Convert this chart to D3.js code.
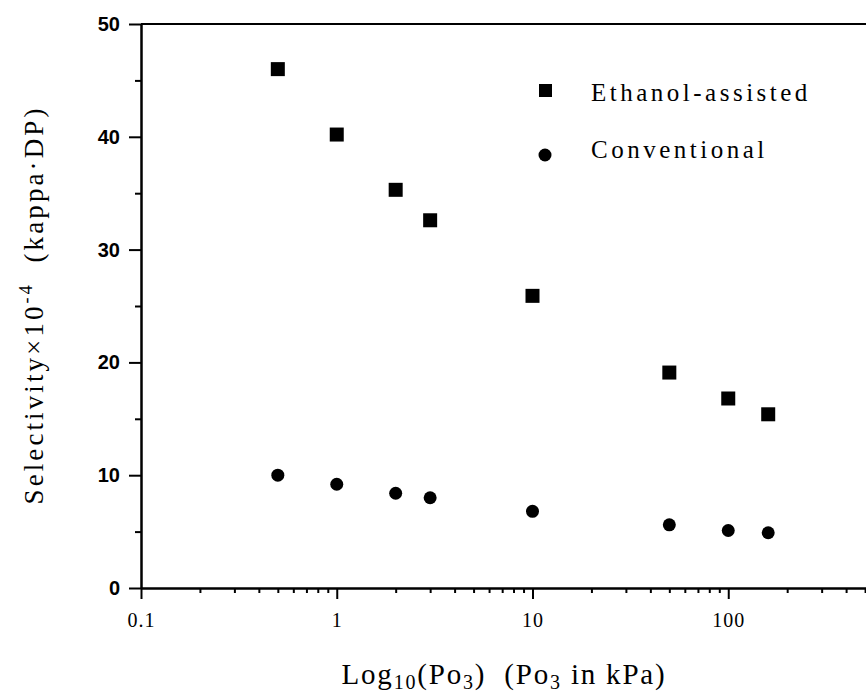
<!DOCTYPE html>
<html>
<head>
<meta charset="utf-8">
<script src="https://cdn.jsdelivr.net/npm/d3@7/dist/d3.min.js"></script>
<style>
	html, body { margin: 0; padding: 0; background: #fff; }
	svg { display: block; }
	.axis path, .axis line { stroke: #000; stroke-width: 2; }
	.axis--left text { font-family: "Liberation Sans", Arial, sans-serif; font-weight: bold; font-size: 20px; fill: #000; }
	.axis--bottom text { font-family: "Liberation Serif", "DejaVu Serif", serif; font-size: 20px; letter-spacing: 1px; fill: #000; }
	.title, .legend text { font-family: "Liberation Serif", "DejaVu Serif", serif; font-size: 25px; fill: #000; }
</style>
</head>
<body>
<svg id="scatter-chart" width="866" height="695"></svg>
<script>
// Po3 in kPa
var pressures = [0.5, 1, 2, 3, 10, 50, 100, 160];

// selectivity x 10^-4
var ethanolAssisted = [46.0, 40.2, 35.3, 32.6, 25.9, 19.1, 16.8, 15.4];
var conventional = [10.0, 9.2, 8.4, 8.0, 6.8, 5.6, 5.1, 4.9];

var seriesNames = ['Ethanol-assisted', 'Conventional'];

var xTicks = [0.1, 1, 10, 100];
var xTickLabels = ['0.1', '1', '10', '100'];
var yTicks = [0, 10, 20, 30, 40, 50];
var yMinorTicks = [5, 15, 25, 35, 45];


window.app = window.app || {};

window.app.scatterChart = (function() {

	'use strict';

	var svg,
		xScale,
		yScale;


	/**
	* set up svg and scales
	* @returns {undefined}
	*/
	var initScales = function() {
		svg = d3.select('#scatter-chart');

		// the plot runs on past the right edge of the picture, like the scan does
		xScale = d3.scaleLog()
			.domain([0.1, 1000])
			.range([141, 924]);

		yScale = d3.scaleLinear()
			.domain([0, 50])
			.range([588, 24]);
	};


	/**
	* draw axes, minor ticks and frame line on top
	* @returns {undefined}
	*/
	var createAxes = function() {
		var minorX = [];
		for (var d = 0.1; d < 1000; d *= 10) {
			for (var m = 2; m <= 9; m++) {
				minorX.push(+(d * m).toPrecision(3));
			}
		}

		svg.append('g')
			.attr('class', 'axis axis--bottom')
			.attr('transform', 'translate(0,' + yScale(0) + ')')
			.call(d3.axisBottom(xScale)
				.tickValues(xTicks)
				.tickFormat(function(d, i) { return xTickLabels[i]; })
				.tickSize(11)
				.tickSizeOuter(0)
				.tickPadding(14));

		svg.append('g')
			.attr('class', 'axis axis--bottom-minor')
			.attr('transform', 'translate(0,' + yScale(0) + ')')
			.call(d3.axisBottom(xScale)
				.tickValues(minorX)
				.tickFormat('')
				.tickSize(5)
				.tickSizeOuter(0));

		svg.append('g')
			.attr('class', 'axis axis--left')
			.attr('transform', 'translate(' + xScale(0.1) + ',0)')
			.call(d3.axisLeft(yScale)
				.tickValues(yTicks)
				.tickSize(12)
				.tickSizeOuter(0)
				.tickPadding(9));

		svg.append('g')
			.attr('class', 'axis axis--left-minor')
			.attr('transform', 'translate(' + xScale(0.1) + ',0)')
			.call(d3.axisLeft(yScale)
				.tickValues(yMinorTicks)
				.tickFormat('')
				.tickSize(6)
				.tickSizeOuter(0));

		svg.append('line')
			.attr('x1', xScale(0.1))
			.attr('x2', xScale(1000))
			.attr('y1', yScale(50))
			.attr('y2', yScale(50))
			.attr('stroke', '#000')
			.attr('stroke-width', 2);
	};


	/**
	* axis titles with sub / superscripts
	* @returns {undefined}
	*/
	var createTitles = function() {
		var xt = svg.append('text')
			.attr('class', 'title')
			.attr('x', 504)
			.attr('y', 684)
			.attr('text-anchor', 'middle')
			.style('font-size', '29px')
			.style('letter-spacing', '1.8px');
		xt.append('tspan').text('Log');
		xt.append('tspan').attr('dy', 5).style('font-size', '20px').text('10');
		xt.append('tspan').attr('dy', -5).text('(Po');
		xt.append('tspan').attr('dy', 5).style('font-size', '20px').text('3');
		xt.append('tspan').attr('dy', -5).attr('xml:space', 'preserve').text(')  (Po');
		xt.append('tspan').attr('dy', 5).style('font-size', '20px').text('3');
		xt.append('tspan').attr('dy', -5).text(' in kPa)');

		var yt = svg.append('text')
			.attr('class', 'title')
			.attr('transform', 'translate(43,305) rotate(-90)')
			.attr('text-anchor', 'middle')
			.attr('xml:space', 'preserve')
			.style('font-size', '27px')
			.style('letter-spacing', '3.1px');
		yt.append('tspan').text('Selectivity\u00d710');
		yt.append('tspan').attr('dy', -11).style('font-size', '18px').text('-4');
		yt.append('tspan').attr('dy', 11).text('  (kappa\u00b7DP)');
	};


	/**
	* draw the two series as squares and dots
	* @returns {undefined}
	*/
	var drawMarkers = function() {
		svg.append('g')
			.attr('class', 'markers markers--ethanol')
			.selectAll('rect')
			.data(ethanolAssisted)
			.enter()
			.append('rect')
			.attr('x', function(d, i) { return xScale(pressures[i]) - 7; })
			.attr('y', function(d) { return yScale(d) - 7; })
			.attr('width', 14)
			.attr('height', 14)
			.attr('fill', '#000');

		svg.append('g')
			.attr('class', 'markers markers--conventional')
			.selectAll('circle')
			.data(conventional)
			.enter()
			.append('circle')
			.attr('cx', function(d, i) { return xScale(pressures[i]); })
			.attr('cy', function(d) { return yScale(d); })
			.attr('r', 6.5)
			.attr('fill', '#000');
	};


	/**
	* legend top right
	* @returns {undefined}
	*/
	var drawLegend = function() {
		var legend = svg.append('g').attr('class', 'legend');

		legend.append('rect')
			.attr('x', 539).attr('y', 84)
			.attr('width', 13).attr('height', 13)
			.attr('fill', '#000');
		legend.append('circle')
			.attr('cx', 545).attr('cy', 155)
			.attr('r', 6.5)
			.attr('fill', '#000');

		legend.selectAll('text')
			.data(seriesNames)
			.enter()
			.append('text')
			.attr('x', 591)
			.attr('y', function(d, i) { return 101 + i * 57; })
			.style('letter-spacing', '3.5px')
			.text(function(d) { return d; });
	};


	var init = function() {
		initScales();
		createAxes();
		drawMarkers();
		drawLegend();
		createTitles();
	};

	return {
		init
	};

})();

window.app.scatterChart.init();
</script>
</body>
</html>
